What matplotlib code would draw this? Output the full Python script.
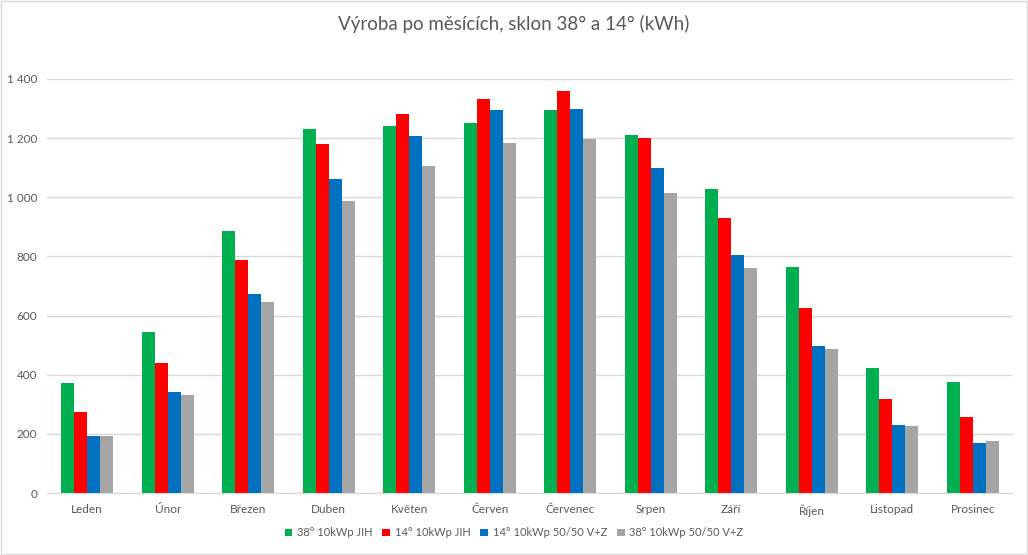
import numpy as np
import matplotlib.pyplot as plt
from matplotlib.patches import Rectangle

plt.rcParams['font.family'] = ['Lato', 'DejaVu Sans']

# Data (kWh per month)
months = ['Leden', 'Únor', 'Březen', 'Duben', 'Květen', 'Červen',
          'Červenec', 'Srpen', 'Září', 'Říjen', 'Listopad', 'Prosinec']
s38_jih = [373, 545, 887, 1232, 1242, 1252, 1296, 1210, 1027, 764, 422, 375]
s14_jih = [275, 441, 789, 1181, 1283, 1331, 1358, 1201, 929, 625, 318, 257]
s14_vz = [194, 343, 674, 1063, 1208, 1294, 1300, 1100, 804, 497, 230, 169]
s38_vz = [194, 332, 647, 988, 1107, 1185, 1198, 1016, 760, 487, 227, 176]

labels = ['38° 10kWp JIH', '14° 10kWp JIH', '14° 10kWp 50/50 V+Z', '38° 10kWp 50/50 V+Z']
colors = ['#00B050', '#FF0000', '#0070C0', '#A5A5A5']
series = [s38_jih, s14_jih, s14_vz, s38_vz]

text_color = '#595959'

fig = plt.figure(figsize=(10.28, 5.55), dpi=100)
ax = fig.add_axes([0.0457, 0.1117, 0.9397, 0.746])

x = np.arange(len(months))
w = 0.1615
for i, (vals, lab, col) in enumerate(zip(series, labels, colors)):
    ax.bar(x + (i - 1.5) * w, vals, width=w, color=col, label=lab, zorder=2)

ax.set_xlim(-0.5, len(months) - 0.5)
ax.set_ylim(0, 1400)
ax.set_yticks(range(0, 1401, 200))
ax.set_yticklabels([f'{v:,}'.replace(',', ' ') for v in range(0, 1401, 200)])
ax.set_xticks(x)
ax.set_xticklabels(months)
ax.tick_params(axis='both', length=0, colors=text_color, labelsize=8.5)
ax.tick_params(axis='x', pad=8)
ax.tick_params(axis='y', pad=7)
ax.grid(axis='y', color='#D9D9D9', linewidth=1, zorder=0)
for sp in ['top', 'right', 'left']:
    ax.spines[sp].set_visible(False)
ax.spines['bottom'].set_color('#D9D9D9')

fig.suptitle('Výroba po měsících, sklon 38° a 14° (kWh)', y=0.973,
             fontsize=13.5, color=text_color)

leg = fig.legend(loc='center', bbox_to_anchor=(0.5, 0.04), ncol=4, frameon=False,
                 fontsize=8, handlelength=0.7, handleheight=0.7,
                 handletextpad=0.4, columnspacing=0.9)
for t in leg.get_texts():
    t.set_color(text_color)

fig.patches.append(Rectangle((0.001, 0.001), 0.998, 0.998, transform=fig.transFigure,
                             fill=False, edgecolor='#D9D9D9', linewidth=1))

fig.savefig('out.png', dpi=100)
